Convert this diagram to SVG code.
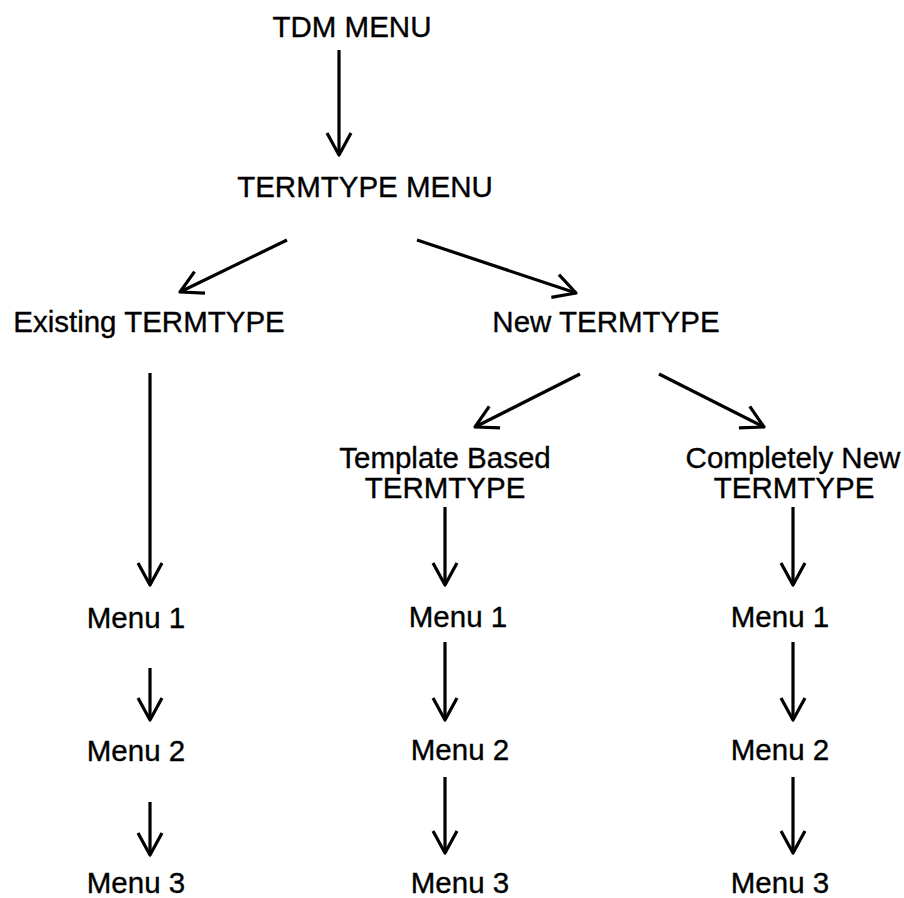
<svg xmlns="http://www.w3.org/2000/svg" width="904" height="898" viewBox="0 0 904 898">
<style>
text{font-family:"Liberation Sans",Arial,sans-serif;font-size:29.5px;fill:#000;stroke:#000;stroke-width:0.35;text-anchor:middle}
.c line{stroke:#000;stroke-width:3.2;fill:none;marker-end:url(#ah)}
</style>
<defs>
<marker id="ah" markerUnits="userSpaceOnUse" viewBox="-26 -16 30 32" refX="0" refY="0" markerWidth="30" markerHeight="32" orient="auto" overflow="visible">
<path d="M-22,-12 L0,0 L-22,12" fill="none" stroke="#000" stroke-width="3.2" stroke-linejoin="round" stroke-linecap="butt"/>
</marker>
</defs>
<rect width="904" height="898" fill="#fff"/>
<g id="tdm"><text x="352" y="37">TDM MENU</text></g>
<g id="termtype"><text x="365" y="197">TERMTYPE MENU</text></g>
<g id="existing"><text x="149" y="332">Existing TERMTYPE</text></g>
<g id="new"><text x="606" y="332">New TERMTYPE</text></g>
<g id="template"><text x="445" y="468">Template Based</text><text x="445" y="498">TERMTYPE</text></g>
<g id="completely"><text x="793" y="468">Completely New</text><text x="794" y="498">TERMTYPE</text></g>
<g id="e1"><text x="136" y="628">Menu 1</text></g>
<g id="e2"><text x="136" y="761">Menu 2</text></g>
<g id="e3"><text x="136" y="893">Menu 3</text></g>
<g id="t1"><text x="458" y="627">Menu 1</text></g>
<g id="t2"><text x="460" y="760">Menu 2</text></g>
<g id="t3"><text x="460" y="893">Menu 3</text></g>
<g id="n1"><text x="780" y="627">Menu 1</text></g>
<g id="n2"><text x="780" y="760">Menu 2</text></g>
<g id="n3"><text x="780" y="893">Menu 3</text></g>
<g id="connectors" class="c">
<line x1="339" y1="50" x2="339" y2="155"/>
<line x1="287" y1="240" x2="180" y2="292"/>
<line x1="417" y1="240" x2="576" y2="293"/>
<line x1="150" y1="373" x2="150" y2="585"/>
<line x1="580" y1="374" x2="475" y2="427"/>
<line x1="659" y1="374" x2="764" y2="427"/>
<line x1="445" y1="507" x2="445" y2="585"/>
<line x1="793" y1="507" x2="793" y2="585"/>
<line x1="150" y1="668" x2="150" y2="720"/>
<line x1="150" y1="802" x2="150" y2="855"/>
<line x1="445" y1="642" x2="445" y2="720"/>
<line x1="445" y1="777" x2="445" y2="853"/>
<line x1="793" y1="642" x2="793" y2="720"/>
<line x1="793" y1="777" x2="793" y2="853"/>
</g>
</svg>
